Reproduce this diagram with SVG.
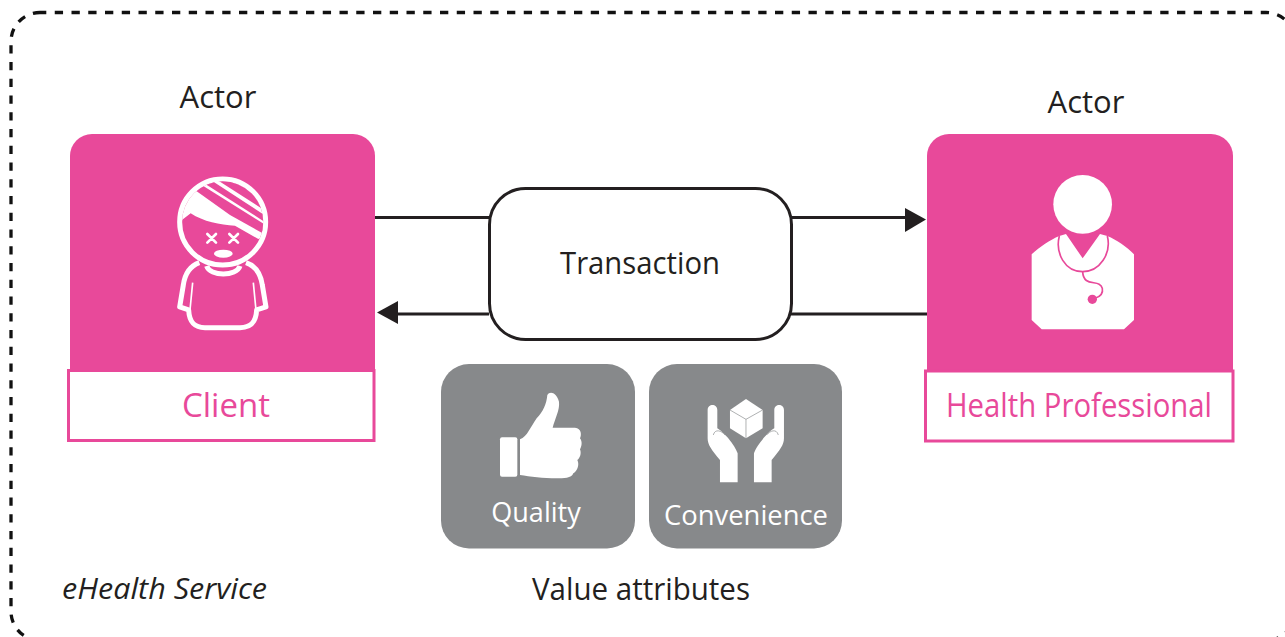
<svg xmlns="http://www.w3.org/2000/svg" width="1285" height="637" viewBox="0 0 1285 637">
<style>
text{font-family:"Open Sans","Noto Sans","Liberation Sans",sans-serif;font-weight:400}
.lbl{font-size:31px;fill:#231f20}
.name{font-size:32px;fill:#e8499a;text-anchor:middle}
.val{font-size:27px;fill:#fff;text-anchor:middle}
.pink{fill:#e8499a}
.gray{fill:#87898b}
.w{fill:#fff}
.cap{fill:#fff;stroke:#e8499a;stroke-width:3}
.ln{stroke:#231f20;stroke-width:3;fill:none}
</style>
<defs>
<clipPath id="head"><circle cx="278" cy="186" r="122"/></clipPath>
</defs>
<rect id="boundary" x="11" y="12.500" width="1284" height="628" rx="29" fill="none" stroke="#111" stroke-width="3.300" stroke-dasharray="8.300 8.450" stroke-dashoffset="2"/>
<g id="client">
<text class="lbl" x="218" y="108" text-anchor="middle">Actor</text>
<path class="pink" d="M70 372V156a22 22 0 0 1 22-22H353a22 22 0 0 1 22 22V372Z"/>
<g transform="translate(130,160) scale(.3333)">
<path d="M208 308C180 318 165 340 160 375L149 441L176 450C178 490 195 503 225 503H330C360 503 378 490 380 450L408 441L397 375C392 340 377 318 348 308" fill="none" stroke="#fff" stroke-width="15" stroke-linejoin="round"/>
<path d="M188 368L180 450M370 368L378 450" stroke="#fff" stroke-width="5" fill="none"/>
<path d="M230 318C240 350 320 350 330 318" fill="none" stroke="#fff" stroke-width="15"/>
<circle cx="278" cy="186" r="129" class="pink" stroke="#fff" stroke-width="15"/>
<g clip-path="url(#head)">
<path class="w" d="M130 200L182 160C220 185 270 195 315 197L385 237L430 220V30H130Z"/>
<path class="pink" d="M198 92L220 78L412 198L405 224L300 165Z"/>
<path class="pink" d="M226 72L248 64L414 172L414 192Z"/>
<path class="pink" d="M262 60L402 150C385 105 340 60 280 52Z"/>
</g>
<path d="M232 222L258 248M258 222L232 248M298 222L324 248M324 222L298 248" stroke="#fff" stroke-width="8" stroke-linecap="round"/>
<ellipse cx="280" cy="281" rx="28" ry="12" fill="#fff"/>
</g>
<rect class="cap" x="68.500" y="370.500" width="305.500" height="70"/>
<text class="name" x="226" y="417" textLength="88" lengthAdjust="spacingAndGlyphs">Client</text>
</g>
<g id="health-professional">
<text class="lbl" x="1086" y="113" text-anchor="middle">Actor</text>
<path class="pink" d="M927 372V156a22 22 0 0 1 22-22H1211a22 22 0 0 1 22 22V372Z"/>
<g transform="translate(1000,160) scale(.3333)">
<circle cx="248" cy="133" r="88" fill="#fff"/>
<path class="w" d="M95 283C120 260 150 240 178 228L198 222L248 295L300 222L322 228C350 240 380 260 402 283V480L372 508H125L95 480Z"/>
<path d="M178 228C165 280 195 335 248 335C300 335 335 280 322 228" fill="none" stroke="#e8499a" stroke-width="5"/>
<path d="M248 335C250 385 300 355 307 385C310 400 300 410 285 415" fill="none" stroke="#e8499a" stroke-width="5"/>
<circle cx="277" cy="418" r="14" fill="#e8499a"/>
</g>
<rect class="cap" x="925.500" y="371" width="307.500" height="70"/>
<text class="name" x="1079" y="417" textLength="266" lengthAdjust="spacingAndGlyphs">Health Professional</text>
</g>
<g id="connectors">
<path class="ln" d="M375 217.500H490"/>
<path class="ln" d="M791 217.500H905"/>
<path class="ln" d="M489 314H398"/>
<path class="ln" d="M927 314H791"/>
<path d="M905 208L926 219.500L905 232Z" fill="#231f20"/>
<path d="M398 301L377 312.500L398 324Z" fill="#231f20"/>
</g>
<g id="transaction">
<rect x="489.500" y="188.500" width="302" height="151" rx="36" fill="#fff" stroke="#231f20" stroke-width="3"/>
<text class="lbl" x="640" y="274" text-anchor="middle" textLength="160" lengthAdjust="spacingAndGlyphs">Transaction</text>
</g>
<g id="quality">
<rect class="gray" x="441" y="364" width="194" height="184.500" rx="28"/>
<g transform="translate(440,360) scale(.3333)">
<rect class="w" x="180" y="232" width="52" height="118" rx="6"/>
<path class="w" d="M240 345L240 238C262 230 272 200 290 175C310 155 320 130 322 105C330 92 350 98 357 125C360 150 345 175 338 203L405 203C425 205 425 225 420 235C428 245 425 260 420 268C425 280 420 295 412 300C420 315 410 335 400 340C395 355 370 355 350 355C310 355 270 350 240 345Z"/>
</g>
<text class="val" x="536" y="522">Quality</text>
</g>
<g id="convenience">
<rect class="gray" x="649" y="364" width="193" height="184.500" rx="28"/>
<g transform="translate(440,360) scale(.3333)">
<path class="w" d="M803 150C803 130 832 130 832 150L832 205C850 215 885 255 893 280L893 367L840 367L840 300C815 270 803 255 803 235Z"/>
<path class="w" d="M1032 150C1032 130 1003 130 1003 150L1003 205C985 215 950 255 942 280L942 367L995 367L995 300C1020 270 1032 255 1032 235Z"/>
<path d="M820 225C825 205 845 212 855 225M1015 225C1010 205 990 212 980 225" fill="none" stroke="#87898b" stroke-width="2"/>
<path class="w" d="M918 117L968 150V205L918 235L870 205V150Z"/>
<path d="M870 150L918 178L968 150M918 178V235" fill="none" stroke="#87898b" stroke-width="2"/>
</g>
<text class="val" x="746" y="525" textLength="164" lengthAdjust="spacingAndGlyphs">Convenience</text>
</g>
<g id="labels">
<text x="62" y="599" font-size="30" font-style="italic" fill="#231f20" textLength="205" lengthAdjust="spacingAndGlyphs">eHealth Service</text>
<text class="lbl" x="641" y="600" text-anchor="middle" textLength="218" lengthAdjust="spacingAndGlyphs">Value attributes</text>
</g>
</svg>
